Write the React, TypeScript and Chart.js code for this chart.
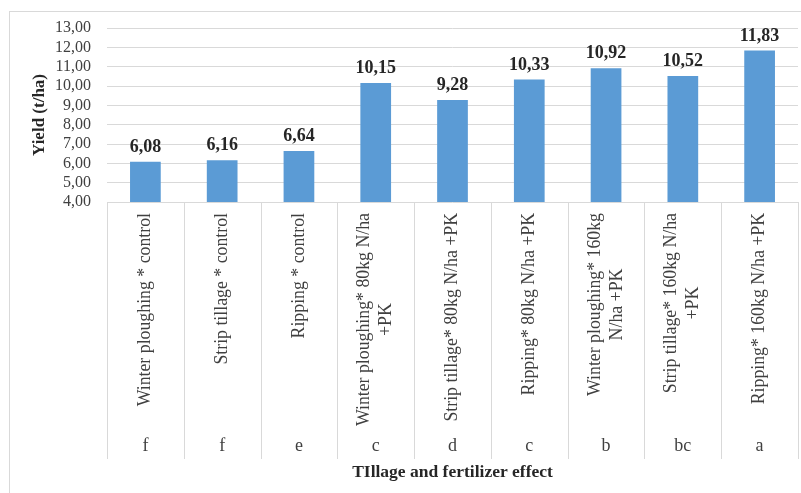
import React, { useEffect, useRef } from "react";
import { Chart, registerables } from "chart.js";

Chart.register(...registerables);

const categories: string[][] = [
  ["Winter ploughing * control"],
  ["Strip tillage * control"],
  ["Ripping * control"],
  ["Winter ploughing* 80kg N/ha", "+PK"],
  ["Strip tillage* 80kg N/ha +PK"],
  ["Ripping* 80kg N/ha +PK"],
  ["Winter ploughing* 160kg", "N/ha +PK"],
  ["Strip tillage* 160kg N/ha", "+PK"],
  ["Ripping* 160kg N/ha +PK"],
];
const yieldValues: number[] = [6.08, 6.16, 6.64, 10.15, 9.28, 10.33, 10.92, 10.52, 11.83];
const groupLetters: string[] = ["f", "f", "e", "c", "d", "c", "b", "bc", "a"];
const yAxisTitle = "Yield (t/ha)";
const xAxisTitle = "TIllage and fertilizer effect";

const fmt = (v: number) => v.toFixed(2).replace(".", ",");
const SERIF = "'Liberation Serif', 'Times New Roman', serif";
const GRID = "#d9d9d9";

const decorPlugin = {
  id: "decor",
  beforeDraw(chart: any) {
    const ctx = chart.ctx;
    ctx.save();
    ctx.fillStyle = "#ffffff";
    ctx.fillRect(0, 0, chart.width, chart.height);
    ctx.strokeStyle = GRID;
    ctx.lineWidth = 1;
    ctx.strokeRect(9.5, 11.5, chart.width + 10, chart.height + 10);
    ctx.restore();
  },
  afterDraw(chart: any) {
    const ctx = chart.ctx;
    const xs = chart.scales.x;
    const area = chart.chartArea;
    const n = categories.length;
    const step = (area.right - area.left) / n;
    ctx.save();
    // dividers
    ctx.strokeStyle = GRID;
    ctx.lineWidth = 1;
    for (let i = 0; i <= n; i++) {
      const x = Math.round(xs.getPixelForValue(i) - step / 2) + 0.5;
      ctx.beginPath();
      ctx.moveTo(x, area.bottom);
      ctx.lineTo(x, 459);
      ctx.stroke();
    }
    // category labels
    ctx.fillStyle = "#404040";
    ctx.font = `17.8px ${SERIF}`;
    const lh = 22;
    categories.forEach((lines, i) => {
      const cx = xs.getPixelForValue(i);
      const w = Math.max(...lines.map((l) => ctx.measureText(l).width));
      lines.forEach((line, j) => {
        const lx = cx + (j - (lines.length - 1) / 2) * lh;
        ctx.save();
        ctx.translate(lx, area.bottom + 11 + w / 2);
        ctx.rotate(-Math.PI / 2);
        ctx.textAlign = "center";
        ctx.textBaseline = "middle";
        ctx.fillText(line, 0, 0);
        ctx.restore();
      });
    });
    // letters
    ctx.font = `18px ${SERIF}`;
    ctx.textAlign = "center";
    ctx.textBaseline = "middle";
    groupLetters.forEach((g, i) => {
      ctx.fillText(g, xs.getPixelForValue(i), 446);
    });
    // data labels
    const meta = chart.getDatasetMeta(0);
    ctx.fillStyle = "#262626";
    ctx.font = `bold 18px ${SERIF}`;
    ctx.textBaseline = "alphabetic";
    meta.data.forEach((bar: any, i: number) => {
      ctx.fillText(fmt(yieldValues[i]), bar.x, bar.y - 10);
    });
    ctx.restore();
  },
};

export default function App() {
  const ref = useRef<HTMLCanvasElement>(null);
  useEffect(() => {
    if (!ref.current) return;
    const chart = new Chart(ref.current, {
      type: "bar",
      data: {
        labels: categories.map((c) => c.join(" ")),
        datasets: [
          {
            data: yieldValues,
            backgroundColor: "#5B9BD5",
            borderWidth: 0,
            barPercentage: 0.4,
            categoryPercentage: 1,
          },
        ],
      },
      options: {
        animation: false,
        responsive: false,
        devicePixelRatio: 1,
        layout: { padding: { top: 28, right: 3, left: 0, bottom: 0 } },
        plugins: { legend: { display: false }, tooltip: { enabled: false } },
        scales: {
          x: {
            grid: { display: false },
            border: { display: false },
            ticks: { display: false },
            afterFit: (s: any) => {
              s.height = 291;
            },
            title: {
              display: true,
              text: xAxisTitle,
              color: "#262626",
              font: { family: SERIF, size: 17.5, weight: "bold" },
              padding: { top: 0, bottom: 10 },
            },
          },
          y: {
            min: 4,
            max: 13,
            grid: { color: GRID, drawTicks: false },
            border: { display: false },
            ticks: {
              stepSize: 1,
              autoSkip: false,
              padding: 16,
              color: "#404040",
              font: { family: SERIF, size: 16 },
              callback: (v: any) => fmt(Number(v)),
            },
            afterFit: (s: any) => {
              s.width = 107;
            },
            title: {
              display: true,
              text: yAxisTitle,
              color: "#262626",
              font: { family: SERIF, size: 17, weight: "bold" },
              padding: { top: 29, bottom: 0 },
            },
          },
        },
      },
      plugins: [decorPlugin],
    });
    return () => chart.destroy();
  }, []);
  return (
    <div style={{ position: "absolute", left: 0, top: 0, width: 801, height: 493 }}>
      <canvas ref={ref} width={801} height={493} />
    </div>
  );
}
